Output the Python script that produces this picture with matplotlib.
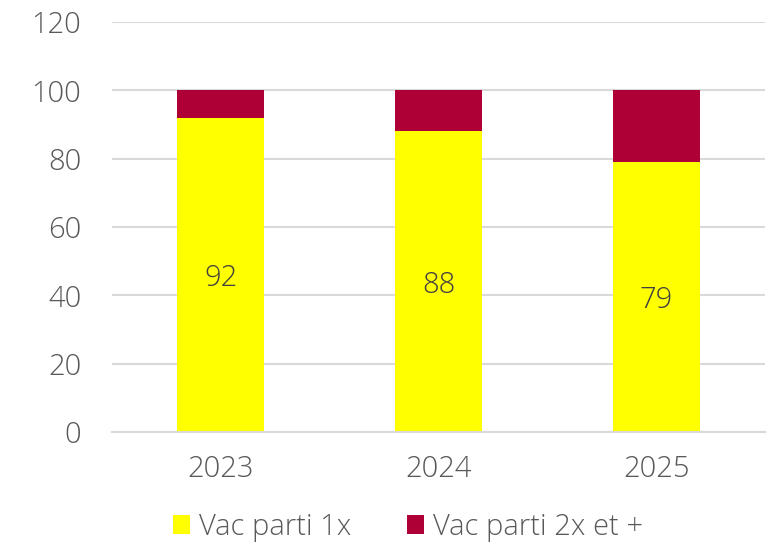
import matplotlib.pyplot as plt
import numpy as np

plt.rcParams['font.family'] = ['Open Sans', 'DejaVu Sans']
plt.rcParams['font.weight'] = 'light'

years = ['2023', '2024', '2025']
parti_1x = [92, 88, 79]
parti_2x = [8, 12, 21]

yellow = '#FFFF00'
crimson = '#AE0037'
grey = '#595959'

fig = plt.figure(figsize=(7.77, 5.49), dpi=100)
ax = fig.add_axes([0.144, 0.213, 0.841, 0.747])

x = np.arange(len(years))
ax.bar(x, parti_1x, width=0.4, color=yellow, label='Vac parti 1x', zorder=2)
ax.bar(x, parti_2x, width=0.4, bottom=parti_1x, color=crimson,
       label='Vac parti 2x et +', zorder=2)

# value labels inside the yellow part
for xi, v in zip(x, parti_1x):
    ax.text(xi, v / 2, str(v), ha='center', va='center_baseline', fontsize=21,
            color='#404040')

ax.set_xlim(-0.5, 2.5)
ax.set_ylim(0, 120)
ax.set_yticks(range(0, 121, 20))
ax.set_xticks(x)
ax.set_xticklabels(years)
ax.grid(axis='y', color='#D9D9D9', linewidth=1.5, zorder=0)
for s in ax.spines.values():
    s.set_visible(False)
ax.spines['bottom'].set_visible(True)
ax.spines['bottom'].set_color('#D9D9D9')
ax.spines['bottom'].set_linewidth(1.5)
ax.tick_params(length=0, labelsize=21, colors=grey)
ax.tick_params(axis='y', pad=22)
ax.tick_params(axis='x', pad=16)

leg = fig.legend(loc='lower center', bbox_to_anchor=(0.525, -0.035), ncol=2,
                 frameon=False, fontsize=21, handlelength=0.6, handleheight=0.6,
                 handletextpad=0.3, columnspacing=1.9)
for t in leg.get_texts():
    t.set_color(grey)

fig.savefig('out.png', dpi=100)
